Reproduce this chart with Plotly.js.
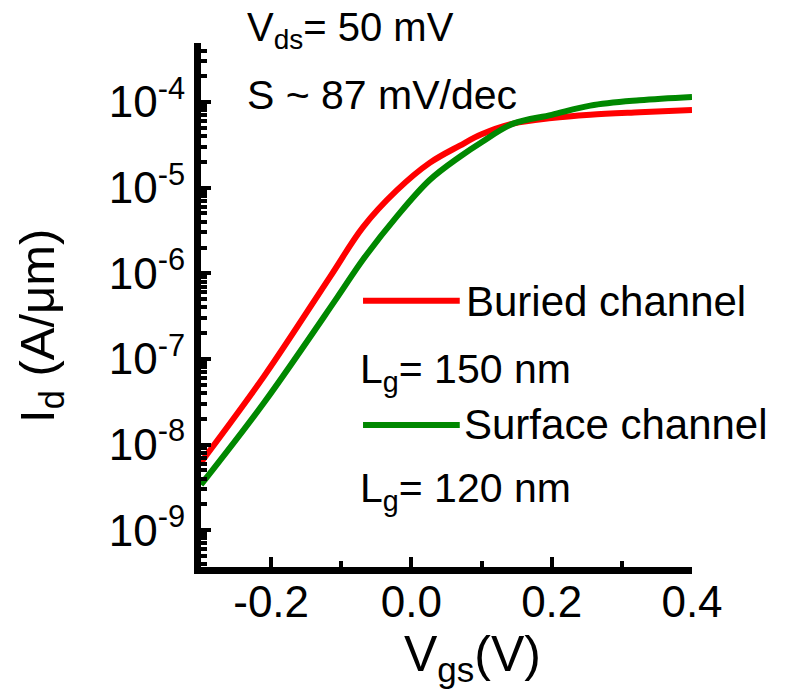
<!DOCTYPE html>
<html>
<head>
<meta charset="utf-8">
<script src="https://cdn.plot.ly/plotly-3.0.1.min.js"></script>
<style>html,body{margin:0;padding:0;background:#fff;}#chart{width:787px;height:691px;}</style>
</head>
<body>
<div id="chart"></div>
<script>
// Buried channel (Lg = 150 nm)
const vgsBuried = [-0.30, -0.21, -0.116, -0.069, -0.021, 0.026, 0.069, 0.10, 0.145, 0.20, 0.255, 0.325, 0.40];
const idBuried  = [6.2e-9, 6.3e-8, 9.1e-7, 3.47e-6, 9.3e-6, 1.95e-5, 3.1e-5, 4.2e-5, 5.6e-5, 6.5e-5, 7.1e-5, 7.6e-5, 8.1e-5];
// Surface channel (Lg = 120 nm)
const vgsSurface = [-0.30, -0.21, -0.106, -0.069, -0.021, 0.026, 0.069, 0.10, 0.145, 0.20, 0.255, 0.325, 0.40];
const idSurface  = [3.4e-9, 3.1e-8, 5.2e-7, 1.45e-6, 4.6e-6, 1.23e-5, 2.3e-5, 3.4e-5, 5.6e-5, 7.1e-5, 9.1e-5, 1.05e-4, 1.15e-4];

const xTickVals = [-0.2, 0.0, 0.2, 0.4];
const xTickText = ['-0.2', '0.0', '0.2', '0.4'];
const yTickVals = [1e-9, 1e-8, 1e-7, 1e-6, 1e-5, 1e-4];
const yTickText = ['10<sup>-9</sup>', '10<sup>-8</sup>', '10<sup>-7</sup>', '10<sup>-6</sup>', '10<sup>-5</sup>', '10<sup>-4</sup>'];

const seriesNames = ['Buried channel', 'Surface channel'];
const gateLengths = ['L<sub>g</sub>= 150 nm', 'L<sub>g</sub>= 120 nm'];
const noteLines = ['V<sub>ds</sub>= 50 mV', 'S ~ 87 mV/dec'];
const xTitle = 'V<sub>gs</sub>(V)';
const yTitle = 'I<sub>d</sub> (A/μm)';

const FONT = 'Liberation Sans, Arial, sans-serif';
const RED = '#ff0000', GREEN = '#008800';

const traces = [
  {x: vgsBuried, y: idBuried, mode: 'lines', line: {color: RED, width: 6, shape: 'spline', smoothing: 1.0}, name: seriesNames[0], showlegend: false},
  {x: vgsSurface, y: idSurface, mode: 'lines', line: {color: GREEN, width: 6, shape: 'spline', smoothing: 1.0}, name: seriesNames[1], showlegend: false}
];

const txt = (text, x, y, size) => ({text: text, xref: 'paper', yref: 'paper', x: x, y: y,
  xanchor: 'left', yanchor: 'middle', showarrow: false, font: {size: size || 40, family: FONT, color: '#000'}});

const layout = {
  width: 787, height: 691,
  margin: {l: 201, r: 95, t: 43, b: 124},
  paper_bgcolor: '#fff', plot_bgcolor: '#fff',
  font: {family: FONT, color: '#000'},
  showlegend: false,
  xaxis: {
    range: [-0.3, 0.4], tickvals: xTickVals, ticktext: xTickText,
    ticks: 'inside', ticklen: 10, tickwidth: 4, tickcolor: '#000',
    showline: true, linewidth: 7, linecolor: '#000', mirror: false,
    showgrid: false, zeroline: false, ticklabelstandoff: -10,
    tickfont: {size: 44, family: FONT, color: '#000'},
    minor: {dtick: 0.1, ticks: 'inside', ticklen: 6, tickwidth: 4, tickcolor: '#000', showgrid: false}
  },
  yaxis: {
    type: 'log', range: [-9.43, -3.31], tickvals: yTickVals, ticktext: yTickText,
    ticks: 'inside', ticklen: 10, tickwidth: 4, tickcolor: '#000',
    showline: true, linewidth: 7, linecolor: '#000', mirror: false,
    showgrid: false, zeroline: false,
    tickfont: {size: 44, family: FONT, color: '#000'},
    minor: {dtick: 'D1', ticks: 'inside', ticklen: 6, tickwidth: 4, tickcolor: '#000', showgrid: false}
  },
  shapes: [
    {type: 'line', xref: 'paper', yref: 'paper', x0: 0.330, x1: 0.527, y0: 0.508, y1: 0.508, line: {color: RED, width: 6}},
    {type: 'line', xref: 'paper', yref: 'paper', x0: 0.330, x1: 0.527, y0: 0.271, y1: 0.271, line: {color: GREEN, width: 6}}
  ],
  annotations: [
    txt(noteLines[0], 0.0896, 1.025, 40),
    txt(noteLines[1], 0.0896, 0.901, 41),
    txt(seriesNames[0], 0.536, 0.506, 42),
    txt(gateLengths[0], 0.320, 0.372, 41),
    txt(seriesNames[1], 0.532, 0.271, 42),
    txt(gateLengths[1], 0.320, 0.145, 41),
    {text: xTitle, xref: 'paper', yref: 'paper', x: 0.553, y: -0.172, xanchor: 'center', yanchor: 'middle',
     showarrow: false, font: {size: 50, family: FONT, color: '#000'}},
    {text: yTitle, xref: 'paper', yref: 'paper', x: -0.326, y: 0.46, xanchor: 'center', yanchor: 'middle',
     textangle: -90, showarrow: false, font: {size: 49, family: FONT, color: '#000'}}
  ]
};

Plotly.newPlot('chart', traces, layout, {staticPlot: true, displayModeBar: false});
</script>
</body>
</html>
